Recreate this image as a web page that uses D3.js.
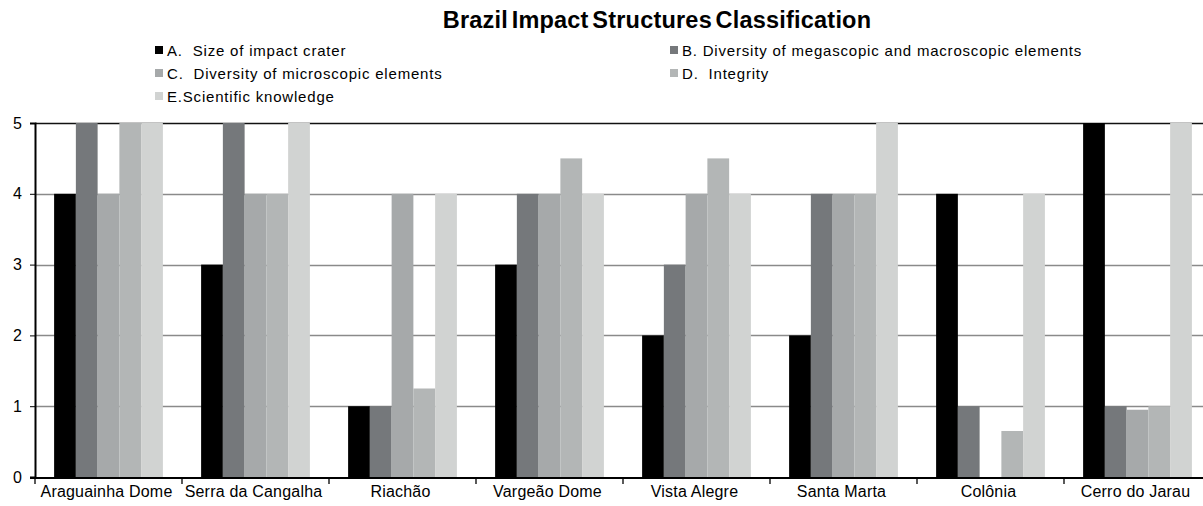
<!DOCTYPE html>
<html>
<head>
<meta charset="utf-8">
<script src="https://cdn.jsdelivr.net/npm/d3@7"></script>
<style>
  body { margin: 0; background: #fff; }
  text { font-family: "Liberation Sans", Arial, sans-serif; }
</style>
</head>
<body>
<div id="chart"></div>
<script>
// grouped bar chart of impact structure scores

const structures = ["Araguainha Dome", "Serra da Cangalha", "Riachão", "Vargeão Dome",
  "Vista Alegre", "Santa Marta", "Colônia", "Cerro do Jarau"];
const criteria = ["A", "B", "C", "D", "E"];
const criteriaLabels = [
  "A.  Size of impact crater",
  "B. Diversity of megascopic and macroscopic elements",
  "C.  Diversity of microscopic elements",
  "D.  Integrity",
  "E.Scientific knowledge"
];
// scores per criterion, one per structure
const sizeCrater = [4, 3, 1, 3, 2, 2, 4, 5];
const megaMacro = [5, 5, 1, 4, 3, 4, 1, 1];
const microscopic = [4, 4, 4, 4, 4, 4, 0, 0.95];
const integrity = [5, 4, 1.25, 4.5, 4.5, 4, 0.65, 1];
const scientific = [5, 5, 4, 4, 4, 5, 4, 5];
const yTicks = [0, 1, 2, 3, 4, 5];

const series = [sizeCrater, megaMacro, microscopic, integrity, scientific];
const colors = ["#000000", "#75787b", "#a6a9aa", "#b3b6b6", "#d1d3d2"];

const width = 1203, height = 506;
const margin = { top: 123, left: 35, bottom: 29 };

const svg = d3.select("#chart").append("svg")
  .attr("width", width)
  .attr("height", height);

// scales
const x0 = d3.scaleBand()
  .domain(structures)
  .range([margin.left, 1211])
  .paddingInner(0.26)
  .paddingOuter(0.13);

const x1 = d3.scaleBand()
  .domain(criteria)
  .range([0, x0.bandwidth()]);

const y = d3.scaleLinear()
  .domain([0, 5])
  .range([height - margin.bottom, margin.top]);

const color = d3.scaleOrdinal().domain(criteria).range(colors);

// gridlines
svg.append("g")
  .selectAll("line")
  .data(yTicks.filter(d => d > 0))
  .join("line")
  .attr("x1", margin.left)
  .attr("x2", width)
  .attr("y1", d => Math.round(y(d)) + 0.5)
  .attr("y2", d => Math.round(y(d)) + 0.5)
  .attr("stroke", d => d === 5 ? "#111" : "#8a8a8a")
  .attr("stroke-width", d => d === 5 ? 1.5 : 1.3);

// bars
const rows = structures.map((s, i) => ({ name: s, values: criteria.map((c, j) => ({ key: c, value: series[j][i] })) }));

svg.append("g")
  .selectAll("g")
  .data(rows)
  .join("g")
  .attr("transform", d => `translate(${x0(d.name)},0)`)
  .selectAll("rect")
  .data(d => d.values)
  .join("rect")
  .attr("x", d => x1(d.key))
  .attr("y", d => y(d.value))
  .attr("width", x1.bandwidth())
  .attr("height", d => y(0) - y(d.value))
  .attr("fill", d => color(d.key));

// y axis
const yAxis = svg.append("g")
  .attr("transform", `translate(${margin.left},0)`)
  .call(d3.axisLeft(y).tickValues(yTicks).tickSize(5).tickFormat(d3.format("d")));
yAxis.select(".domain").attr("stroke", "#000").attr("stroke-width", 2);
yAxis.selectAll(".tick line").attr("stroke", "#000");
yAxis.selectAll(".tick text")
  .attr("x", -13)
  .style("font-size", "16px")
  .attr("fill", "#000");

// x axis baseline + ticks between groups
const step = x0.step();
svg.append("line")
  .attr("x1", margin.left - 5)
  .attr("x2", width)
  .attr("y1", y(0) + 1)
  .attr("y2", y(0) + 1)
  .attr("stroke", "#000")
  .attr("stroke-width", 2);

svg.append("g")
  .selectAll("line")
  .data(structures)
  .join("line")
  .attr("x1", d => x0(d) - step * x0.paddingInner() / 2)
  .attr("x2", d => x0(d) - step * x0.paddingInner() / 2)
  .attr("y1", y(0) + 1)
  .attr("y2", y(0) + 7)
  .attr("stroke", "#000")
  .attr("stroke-width", 1.3);

svg.append("g")
  .selectAll("text")
  .data(structures)
  .join("text")
  .attr("x", d => x0(d) + x0.bandwidth() / 2 - 2)
  .attr("y", 497)
  .attr("text-anchor", "middle")
  .style("font-size", "16px")
  .style("letter-spacing", "0.2px")
  .text(d => d);

// title
svg.append("text")
  .attr("x", 657)
  .attr("y", 28)
  .attr("text-anchor", "middle")
  .style("font-size", "23.5px")
  .style("font-weight", "bold")
  .style("letter-spacing", "0.2px")
  .style("word-spacing", "-3px")
  .text("Brazil Impact Structures Classification");

// legend, two columns
const legendPos = [[155, 50], [670, 50], [155, 73], [670, 73], [155, 96]];
const legend = svg.append("g")
  .selectAll("g")
  .data(criteria)
  .join("g")
  .attr("transform", (d, i) => `translate(${legendPos[i][0]},${legendPos[i][1]})`);

legend.append("rect")
  .attr("x", 0)
  .attr("y", -4)
  .attr("width", 8)
  .attr("height", 8)
  .attr("fill", d => color(d));

legend.append("text")
  .attr("x", 12)
  .attr("y", 5.5)
  .style("font-size", "15px")
  .style("letter-spacing", "0.8px")
  .style("white-space", "pre")
  .text((d, i) => criteriaLabels[i]);
</script>
</body>
</html>
